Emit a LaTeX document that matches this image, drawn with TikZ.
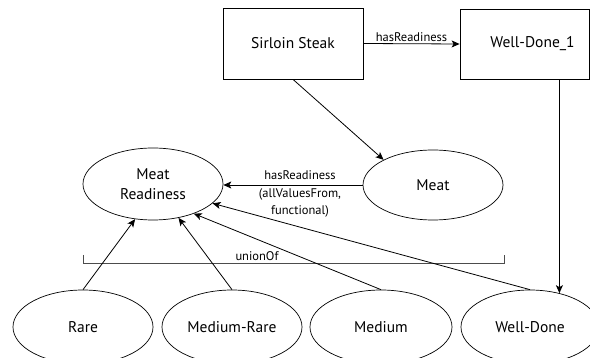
\documentclass[tikz,border=0pt]{standalone}
\usepackage{fontspec}
\setmainfont{PT Sans}
\usetikzlibrary{shapes.geometric,arrows.meta,calc}
\begin{document}
\begin{tikzpicture}[x=1pt,y=-1pt,
  box/.style={draw, line width=0.8pt, minimum width=140pt, minimum height=71pt, inner sep=0pt, font=\fontsize{15.5}{18}\selectfont},
  oval/.style={draw, ellipse, line width=0.7pt, minimum width=140pt, minimum height=74pt, inner sep=0pt, font=\fontsize{15.5}{18}\selectfont},
  arr/.style={line width=0.8pt, -{Stealth[length=8pt,width=7pt,inset=2pt]}},
  lbl/.style={font=\fontsize{12.5}{17.5}\selectfont, inner sep=1pt},
  bracket/.style={draw=black!70, line width=0.8pt}]
\useasboundingbox (0,0) rectangle (590,358);
\node[box] (ss) at (293,43.5) {Sirloin Steak};
\node[box, minimum width=129pt, minimum height=70pt] (wd1) at (524.5,44) {\hspace*{16pt}Well-Done\_1};
\node[oval, minimum height=72pt, align=center, font=\fontsize{15.5}{20.5}\selectfont] (mr) at (153,184) {Meat\\Readiness};
\node[oval, minimum height=70pt] (meat) at (433,185) {Meat};
\node[oval] (rare) at (83,327) {Rare};
\node[oval] (mrare) at (232,327) {Medium-Rare};
\node[oval, minimum width=142pt] (medium) at (381,327) {Medium};
\node[oval, minimum width=138pt] (wdone) at (530,327) {Well-Done};
\draw[arr] (ss.east) -- node[lbl, above=1pt] {hasReadiness} (wd1.west);
\draw[arr] (ss.south) -- (meat.153);
\draw[arr, line width=1.2pt] (wd1.south -| wdone.49) -- (wdone.49);
\draw[arr] (meat.west) -- node[lbl, align=center, xshift=7pt, yshift=-9pt] {hasReadiness\\(allValuesFrom,\\functional)} (meat.west -| mr.east);
\draw[bracket] (83,255) -- (83,263) -- (504,263) -- (504,255);
\node[lbl] (union) at (257,256) {unionOf};
\draw[arr] (rare.north) -- (mr.243);
\draw[arr] (mrare.north) -- (mr.307);
\draw[arr] (medium.north) -- (mr.324);
\draw[arr] (wdone.north) -- (mr.342);
\end{tikzpicture}
\end{document}
